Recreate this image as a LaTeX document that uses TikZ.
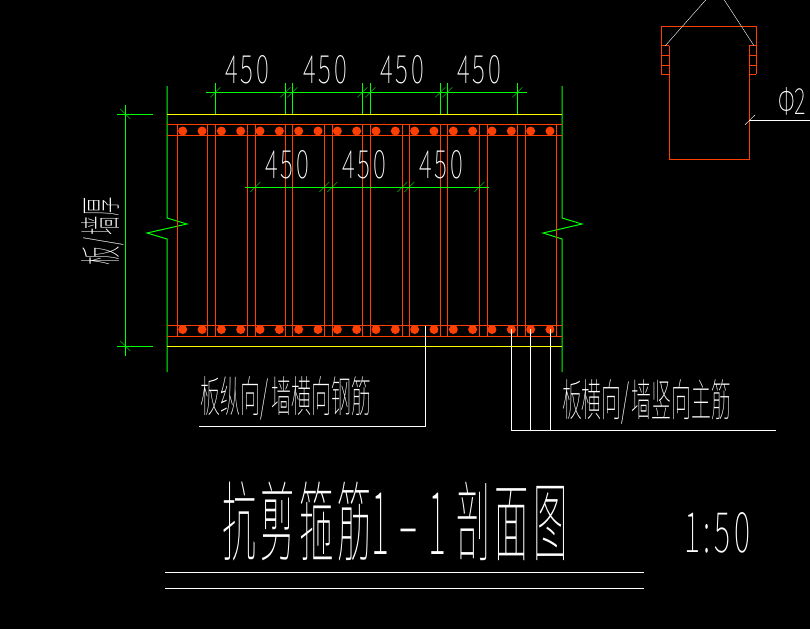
\documentclass[tikz,border=0pt]{standalone}
\usepackage{fontspec}
\usepackage{graphicx}
\newfontfamily\cadfont{Noto Sans CJK SC Thin}
\definecolor{cadgreen}{RGB}{0,255,0}
\definecolor{cadred}{RGB}{255,63,0}
\definecolor{cadyellow}{RGB}{255,255,0}
\tikzstyle{dimline}=[cadgreen,line width=1pt]
\tikzstyle{barline}=[cadred,line width=1pt]
\tikzstyle{leader}=[white,line width=1pt]
\tikzstyle{cadtext}=[white,inner sep=0pt,outer sep=0pt]
\newcommand{\cadlabel}[3]{\resizebox{#1pt}{#2pt}{\cadfont #3}}
\newcommand{\cadgap}{\hspace{0.12em}}
\begin{document}
\begin{tikzpicture}[x=1pt,y=-1pt]
\fill[black] (0,0) rectangle (810,629);
\useasboundingbox (0,0) rectangle (810,629);
% wall faces
\draw[dimline] (167,86) -- (167,218) -- (187,224) -- (147,233) -- (167,239) -- (167,372);
\draw[dimline] (562,86) -- (562,218) -- (582,224) -- (543,233) -- (562,239) -- (562,372);
\draw[cadyellow,line width=1pt] (167,114) -- (562,114);
\draw[cadyellow,line width=1pt] (167,346) -- (562,346);
% bars
\draw[barline] (167,124.5) -- (562,124.5);
\draw[barline] (167,135) -- (562,135);
\draw[barline] (167,325) -- (562,325);
\draw[barline] (167,336) -- (562,336);
\foreach \x in {177.3,207.3,215.3,247.3,255.3,285.3,292.3,324.3,332.3,362.3,370.3,402.3,409.3,440.3,447.3,479.3,487.3,517.3,525.3,556.3}
  \draw[barline] (\x,124.5) -- (\x,336);
\foreach \n in {0,...,19} {
  \fill[cadred] ({182.7+19.33*\n},131) circle (4.5);
  \fill[cadred] ({182.7+19.33*\n},329.5) circle (4.5);
}
% dimensions
\draw[dimline] (206,92.3) -- (527,92.3);
\foreach \x in {215.3,285.3,292.3,362.3,370.3,440.3,447.3,517.3} {
  \draw[dimline] (\x,83) -- (\x,114);
  \draw[cadgreen] (\x-5,97.3) -- (\x+5,87.3);
}
\draw[cadgreen] (245,187) -- (489,187);
\foreach \x in {255.3,324.3,332.3,402.3,409.3,479.3}
  \draw[cadgreen] (\x-5,192) -- (\x+5,182);
\draw[dimline] (125.3,105) -- (125.3,356);
\draw[dimline] (117,114) -- (153,114);
\draw[dimline] (117,346) -- (153,346);
\draw[cadgreen] (120.3,109) -- (130.3,119);
\draw[cadgreen] (120.3,341) -- (130.3,351);
\foreach \x in {247,325,402,479}
  \node[cadtext] (top\x) at (\x,70) {\cadlabel{44}{28}{4\cadgap 5\cadgap 0}};
\foreach \x in {287,364,441}
  \node[cadtext] (mid\x) at (\x,165) {\cadlabel{44}{28}{4\cadgap 5\cadgap 0}};
\node[cadtext,rotate=90] (thick) at (102.5,231) {\cadlabel{68}{35}{板/\cadgap 墙厚}};
% leaders
\draw[leader] (425.3,326) -- (425.3,426.3) -- (199,426.3);
\draw[leader] (511.3,329) -- (511.3,430) -- (775.7,430);
\draw[leader] (530.3,329) -- (530.3,430);
\draw[leader] (550.3,329) -- (550.3,430);
\node[cadtext] (lefttext) at (286,398) {\cadlabel{170}{36}{板纵向/\cadgap 墙横向钢筋}};
\node[cadtext] (righttext) at (646.5,401.5) {\cadlabel{169}{37}{板横向/\cadgap 墙竖向主筋}};
% stirrup section
\draw[barline] (661.3,74.3) -- (661.3,26.3) -- (756.3,26.3) -- (756.3,74.3);
\draw[barline] (669.3,45.7) -- (669.3,159.3) -- (749.3,159.3) -- (749.3,45.7);
\foreach \y in {45.7,55.3,65.3,74.3} {
  \draw[barline] (661.3,\y) -- (669.3,\y);
  \draw[barline] (749.3,\y) -- (756.3,\y);
}
\draw[white] (665.3,45.7) -- (705.7,0);
\draw[white] (754,45.7) -- (724.3,0);
\draw[leader] (749.3,120.3) -- (810,120.3);
\draw[white] (745,124.7) -- (755,115);
\node[cadtext] (phitext) at (792,101.5) {\cadlabel{28}{27}{Φ2}};
% title
\node[cadtext] (title) at (395,521.5) {\cadlabel{345}{73}{抗\cadgap 剪\cadgap 箍\cadgap 筋1\hspace{0.3em}–\hspace{0.3em}1\hspace{0.3em}剖\cadgap 面\cadgap 图}};
\node[cadtext] (scale) at (717,533) {\cadlabel{66}{40}{1\cadgap :\cadgap 5\cadgap 0}};
\draw[leader] (165,572.5) -- (644,572.5);
\draw[leader] (165,588.5) -- (644,588.5);
\end{tikzpicture}
\end{document}
